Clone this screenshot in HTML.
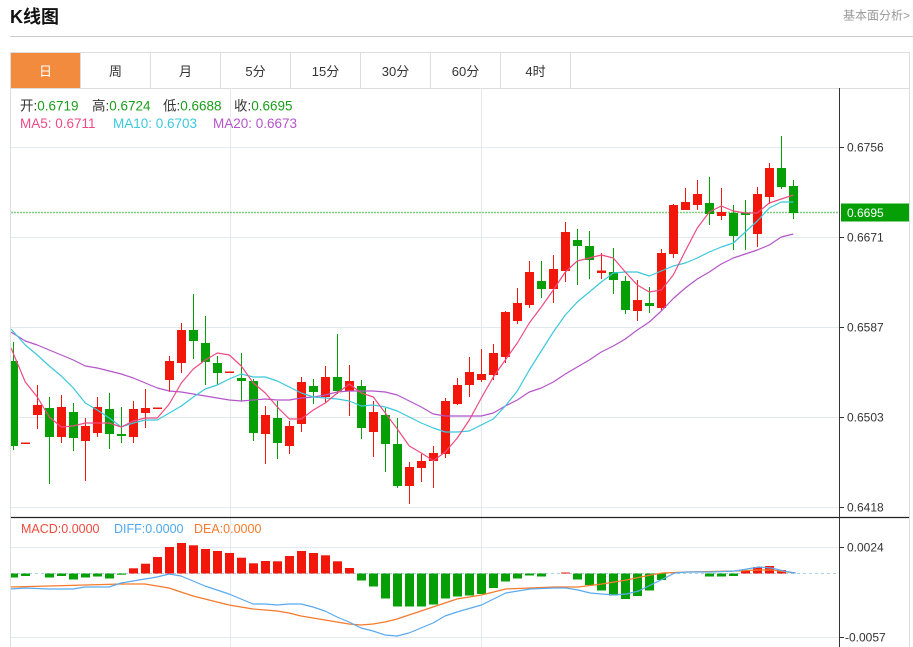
<!DOCTYPE html>
<html><head><meta charset="utf-8"><style>
html,body{margin:0;padding:0;background:#fff;width:913px;height:647px;overflow:hidden}
svg{display:block}
text{font-family:"Liberation Sans","Noto Sans CJK SC",sans-serif}
</style></head><body>
<svg width="913" height="647" viewBox="0 0 913 647" xmlns="http://www.w3.org/2000/svg">
<defs><clipPath id="cp"><rect x="11" y="88" width="828" height="559"/></clipPath></defs>
<rect width="913" height="647" fill="#fff"/>
<text x="10" y="23" font-size="18" font-weight="bold" fill="#111">K线图</text>
<text x="843" y="19.5" font-size="12" fill="#999">基本面分析&gt;</text>
<line x1="10" y1="36.5" x2="913" y2="36.5" stroke="#ccc" stroke-width="1"/>
<!-- tabs -->
<rect x="10.5" y="52.5" width="899" height="36" fill="#fff" stroke="#ddd"/>
<rect x="11" y="53" width="69.5" height="35" fill="#f28b3d"/>
<g stroke="#ddd"><line x1="80.5" y1="52" x2="80.5" y2="88"/><line x1="150.5" y1="52" x2="150.5" y2="88"/><line x1="220.5" y1="52" x2="220.5" y2="88"/><line x1="290.5" y1="52" x2="290.5" y2="88"/><line x1="360.5" y1="52" x2="360.5" y2="88"/><line x1="430.5" y1="52" x2="430.5" y2="88"/><line x1="500.5" y1="52" x2="500.5" y2="88"/><line x1="570.5" y1="52" x2="570.5" y2="88"/></g>
<g font-size="13" fill="#333" text-anchor="middle"><text x="45.5" y="76" fill="#fff">日</text><text x="115.5" y="76">周</text><text x="185.5" y="76">月</text><text x="255.5" y="76">5分</text><text x="325.5" y="76">15分</text><text x="395.5" y="76">30分</text><text x="465.5" y="76">60分</text><text x="535.5" y="76">4时</text></g>
<!-- panel borders -->
<line x1="10.5" y1="88" x2="10.5" y2="647" stroke="#ddd"/>
<line x1="909.5" y1="88" x2="909.5" y2="647" stroke="#ddd"/>
<!-- grid -->
<g stroke="#e3e9f0" stroke-width="1">
<line x1="11" y1="147.5" x2="839" y2="147.5"/><line x1="11" y1="237.5" x2="839" y2="237.5"/><line x1="11" y1="327.5" x2="839" y2="327.5"/><line x1="11" y1="417.5" x2="839" y2="417.5"/><line x1="11" y1="507.5" x2="839" y2="507.5"/>
<line x1="11" y1="547.5" x2="839" y2="547.5"/><line x1="11" y1="637.5" x2="839" y2="637.5"/>
<line x1="230.5" y1="88" x2="230.5" y2="647"/><line x1="481.5" y1="88" x2="481.5" y2="647"/>
</g>
<!-- info text -->
<g font-size="13.5">
<text x="20" y="110.5"><tspan fill="#333">开:</tspan><tspan fill="#1c9e1c">0.6719</tspan></text>
<text x="92" y="110.5"><tspan fill="#333">高:</tspan><tspan fill="#1c9e1c">0.6724</tspan></text>
<text x="163" y="110.5"><tspan fill="#333">低:</tspan><tspan fill="#1c9e1c">0.6688</tspan></text>
<text x="234" y="110.5"><tspan fill="#333">收:</tspan><tspan fill="#1c9e1c">0.6695</tspan></text>
<text x="20" y="128" fill="#ee4b83">MA5: 0.6711</text>
<text x="113" y="128" fill="#3cc8dc">MA10: 0.6703</text>
<text x="213" y="128" fill="#b555c9">MA20: 0.6673</text>
</g>
<g font-size="12.5">
<text x="21" y="533" fill="#f04a3f">MACD:0.0000</text>
<text x="114" y="533" fill="#4fa8ee">DIFF:0.0000</text>
<text x="194" y="533" fill="#f57a2c">DEA:0.0000</text>
</g>
<g clip-path="url(#cp)">
<!-- price line -->
<line x1="11" y1="212.5" x2="839" y2="212.5" stroke="#7fd07f" stroke-width="1.5" stroke-dasharray="2 1"/>
<!-- red candles -->
<g fill="#f2170b">
<rect x="21" y="442.5" width="9" height="1.5"/>
<rect x="33" y="405" width="9" height="10"/><rect x="37" y="385" width="1" height="44"/>
<rect x="57" y="407" width="9" height="30"/><rect x="61" y="395" width="1" height="48"/>
<rect x="81" y="426" width="9" height="15"/><rect x="85" y="418" width="1" height="63"/>
<rect x="93" y="407" width="9" height="26"/><rect x="97" y="397" width="1" height="40"/>
<rect x="129" y="409" width="9" height="28"/><rect x="133" y="401" width="1" height="42"/>
<rect x="141" y="408" width="9" height="5"/><rect x="145" y="389" width="1" height="39"/>
<rect x="153" y="407.5" width="9" height="1.5"/>
<rect x="165" y="361" width="9" height="19"/><rect x="169" y="356" width="1" height="36"/>
<rect x="177" y="330" width="9" height="33"/><rect x="181" y="323" width="1" height="50"/>
<rect x="225" y="371.5" width="9" height="1.5"/>
<rect x="261" y="415" width="9" height="19"/><rect x="265" y="406" width="1" height="58"/>
<rect x="285" y="426" width="9" height="20"/><rect x="289" y="421" width="1" height="33"/>
<rect x="297" y="382" width="9" height="42"/><rect x="301" y="377" width="1" height="55"/>
<rect x="321" y="377" width="9" height="20"/><rect x="325" y="366" width="1" height="37"/>
<rect x="345" y="381" width="9" height="10"/><rect x="349" y="365" width="1" height="51"/>
<rect x="369" y="412" width="9" height="20"/><rect x="373" y="401" width="1" height="56"/>
<rect x="405" y="467" width="9" height="19"/><rect x="409" y="462" width="1" height="42"/>
<rect x="417" y="461" width="9" height="7"/><rect x="421" y="454" width="1" height="28"/>
<rect x="429" y="453" width="9" height="8"/><rect x="433" y="446" width="1" height="42"/>
<rect x="441" y="401" width="9" height="53"/><rect x="445" y="398" width="1" height="60"/>
<rect x="453" y="385" width="9" height="19"/><rect x="457" y="378" width="1" height="27"/>
<rect x="465" y="372" width="9" height="13"/><rect x="469" y="357" width="1" height="40"/>
<rect x="477" y="374" width="9" height="6"/><rect x="481" y="349" width="1" height="33"/>
<rect x="489" y="353" width="9" height="22"/><rect x="493" y="344" width="1" height="36"/>
<rect x="501" y="312" width="9" height="45"/><rect x="505" y="311" width="1" height="52"/>
<rect x="513" y="303" width="9" height="18"/><rect x="517" y="288" width="1" height="36"/>
<rect x="525" y="272" width="9" height="33"/><rect x="529" y="261" width="1" height="47"/>
<rect x="549" y="269" width="9" height="20"/><rect x="553" y="255" width="1" height="48"/>
<rect x="561" y="232" width="9" height="39"/><rect x="565" y="222" width="1" height="60"/>
<rect x="597" y="270.5" width="9" height="2.5"/><rect x="601" y="253" width="1" height="26"/>
<rect x="633" y="300" width="9" height="11"/><rect x="637" y="280" width="1" height="41"/>
<rect x="657" y="253" width="9" height="55"/><rect x="661" y="249" width="1" height="61"/>
<rect x="669" y="205" width="9" height="49"/><rect x="673" y="204" width="1" height="54"/>
<rect x="681" y="202" width="9" height="8"/><rect x="685" y="188" width="1" height="22"/>
<rect x="693" y="194" width="9" height="11"/><rect x="697" y="180" width="1" height="30"/>
<rect x="717" y="212" width="9" height="4"/><rect x="721" y="188" width="1" height="32"/>
<rect x="753" y="194" width="9" height="40"/><rect x="757" y="187" width="1" height="60"/>
<rect x="765" y="168" width="9" height="29"/><rect x="769" y="163" width="1" height="41"/>
</g>
<!-- green candles -->
<g fill="#06a006">
<rect x="9" y="361" width="9" height="85"/><rect x="13" y="342" width="1" height="108"/>
<rect x="45" y="408" width="9" height="29"/><rect x="49" y="397" width="1" height="87"/>
<rect x="69" y="412" width="9" height="26"/><rect x="73" y="403" width="1" height="48"/>
<rect x="105" y="409" width="9" height="25"/><rect x="109" y="393" width="1" height="56"/>
<rect x="117" y="434" width="9" height="2"/><rect x="121" y="407" width="1" height="36"/>
<rect x="189" y="330" width="9" height="11"/><rect x="193" y="294" width="1" height="65"/>
<rect x="201" y="343" width="9" height="19"/><rect x="205" y="316" width="1" height="69"/>
<rect x="213" y="363" width="9" height="10"/><rect x="217" y="356" width="1" height="29"/>
<rect x="237" y="378" width="9" height="3"/><rect x="241" y="353" width="1" height="48"/>
<rect x="249" y="381" width="9" height="52"/><rect x="253" y="379" width="1" height="62"/>
<rect x="273" y="418" width="9" height="25"/><rect x="277" y="401" width="1" height="58"/>
<rect x="309" y="386" width="9" height="6"/><rect x="313" y="379" width="1" height="25"/>
<rect x="333" y="377" width="9" height="14"/><rect x="337" y="334" width="1" height="60"/>
<rect x="357" y="386" width="9" height="42"/><rect x="361" y="380" width="1" height="59"/>
<rect x="381" y="415" width="9" height="29"/><rect x="385" y="408" width="1" height="64"/>
<rect x="393" y="444" width="9" height="42"/><rect x="397" y="418" width="1" height="70"/>
<rect x="537" y="281" width="9" height="8"/><rect x="541" y="261" width="1" height="37"/>
<rect x="573" y="240" width="9" height="6"/><rect x="577" y="229" width="1" height="56"/>
<rect x="585" y="246" width="9" height="14"/><rect x="589" y="231" width="1" height="48"/>
<rect x="609" y="272" width="9" height="8"/><rect x="613" y="248" width="1" height="46"/>
<rect x="621" y="281" width="9" height="29"/><rect x="625" y="276" width="1" height="38"/>
<rect x="645" y="303" width="9" height="3"/><rect x="649" y="287" width="1" height="26"/>
<rect x="705" y="203" width="9" height="11"/><rect x="709" y="177" width="1" height="48"/>
<rect x="729" y="213" width="9" height="23"/><rect x="733" y="205" width="1" height="45"/>
<rect x="741" y="213" width="9" height="2"/><rect x="745" y="200" width="1" height="50"/>
<rect x="777" y="168" width="9" height="19"/><rect x="781" y="136" width="1" height="53"/>
<rect x="789" y="186" width="9" height="27"/><rect x="793" y="180" width="1" height="39"/>
</g>
<!-- MA lines -->
<g fill="none" stroke-width="1.2" stroke-linejoin="round">
<polyline stroke="#b555c9" points="11,332 25.3,341 37.3,345 49.3,350 61.3,355 73.3,360 85.3,366 97.3,368 109.3,371 121.3,374 133.3,378 145.3,383 157.3,388 169.3,391 181.3,392 193.3,394 205.3,396 217.3,398 229.3,400 241.3,401 253.3,400 265.3,399 277.3,400 289.3,400 301.3,398 313.3,397 325.3,395 337.3,392 349.3,391 361.3,391 373.3,391 385.3,392 397.3,395 409.3,401 421.3,407 433.3,414 445.3,416 457.3,416 469.3,416 481.3,416 493.3,413 505.3,406 517.3,400 529.3,392 541.3,388 553.3,382 565.3,374 577.3,367 589.3,360 601.3,352 613.3,346 625.3,339 637.3,330 649.3,322 661.3,311 673.3,298.5 685.3,288 697.3,279 709.3,272 721.3,264 733.3,258 745.3,254 757.3,250 769.3,245 781.3,237 793.3,234"/>
<polyline stroke="#3cc8dc" points="11,329 25.3,345 37.3,355 49.3,366 61.3,376 73.3,388 85.3,403 97.3,410 109.3,418 121.3,427 133.3,423 145.3,420 157.3,420 169.3,413 181.3,406 193.3,397 205.3,389 217.3,385 229.3,379 241.3,374 253.3,377 265.3,377 277.3,381 289.3,387 301.3,393 313.3,397 325.3,398 337.3,399 349.3,401 361.3,406 373.3,405 385.3,407 397.3,411 409.3,417 421.3,423 433.3,428 445.3,432 457.3,432 469.3,431 481.3,425 493.3,419 505.3,406 517.3,391 529.3,370 541.3,351 553.3,332 565.3,315 577.3,302 589.3,292 601.3,282 613.3,273 625.3,272 637.3,272 649.3,276 661.3,271 673.3,266 685.3,263 697.3,258 709.3,252 721.3,247 733.3,243 745.3,232 757.3,221 769.3,208 781.3,202 793.3,202"/>
<polyline stroke="#ee4b83" points="11,348 25.3,382 37.3,397 49.3,417 61.3,427 73.3,426 85.3,423 97.3,423 109.3,423 121.3,427 133.3,421 145.3,418 157.3,418 169.3,404 181.3,383 193.3,369 205.3,360 217.3,353 229.3,355 241.3,366 253.3,383 265.3,393 277.3,407 289.3,419 301.3,419 313.3,410 325.3,403 337.3,393 349.3,384 361.3,393 373.3,397 385.3,413 397.3,429 409.3,446 421.3,453 433.3,460.7 445.3,452 457.3,438 469.3,420 481.3,398 493.3,377 505.3,360 517.3,343 529.3,323 541.3,307 553.3,290 565.3,272 577.3,261 589.3,258 601.3,255 613.3,258 625.3,272 637.3,285 649.3,292 661.3,290 673.3,275 685.3,251 697.3,228 709.3,212 721.3,206 733.3,211 745.3,213 757.3,213 769.3,203 781.3,199 793.3,195"/>
</g>
<!-- MACD zero line -->
<line x1="11" y1="573.5" x2="839" y2="573.5" stroke="#a9d2ea" stroke-width="1" stroke-dasharray="3 3"/>
<!-- MACD bars -->
<g fill="#06a006">
<rect x="9" y="573.5" width="9" height="4"/><rect x="21" y="573.5" width="9" height="2.5"/><rect x="45" y="573.5" width="9" height="4"/><rect x="57" y="573.5" width="9" height="2.5"/><rect x="69" y="573.5" width="9" height="6"/><rect x="81" y="573.5" width="9" height="4"/><rect x="93" y="573.5" width="9" height="3"/><rect x="105" y="573.5" width="9" height="5"/><rect x="117" y="573.5" width="9" height="1.2"/>
<rect x="357" y="573.5" width="9" height="7"/><rect x="369" y="573.5" width="9" height="13"/><rect x="381" y="573.5" width="9" height="25"/><rect x="393" y="573.5" width="9" height="33"/><rect x="405" y="573.5" width="9" height="33"/><rect x="417" y="573.5" width="9" height="33"/><rect x="429" y="573.5" width="9" height="31"/><rect x="441" y="573.5" width="9" height="25"/><rect x="453" y="573.5" width="9" height="23"/><rect x="465" y="573.5" width="9" height="22"/><rect x="477" y="573.5" width="9" height="20.5"/><rect x="489" y="573.5" width="9" height="14.5"/><rect x="501" y="573.5" width="9" height="8"/><rect x="513" y="573.5" width="9" height="5"/><rect x="525" y="573.5" width="9" height="2"/><rect x="537" y="573.5" width="9" height="3"/>
<rect x="573" y="573.5" width="9" height="6"/><rect x="585" y="573.5" width="9" height="11.5"/><rect x="597" y="573.5" width="9" height="17"/><rect x="609" y="573.5" width="9" height="22"/><rect x="621" y="573.5" width="9" height="25.5"/><rect x="633" y="573.5" width="9" height="22.5"/><rect x="645" y="573.5" width="9" height="17"/><rect x="657" y="573.5" width="9" height="6.5"/>
<rect x="705" y="573.5" width="9" height="3"/><rect x="717" y="573.5" width="9" height="3"/><rect x="729" y="573.5" width="9" height="2.5"/>
</g>
<g fill="#f2170b">
<rect x="129" y="568.3" width="9" height="5.2"/><rect x="141" y="563.7" width="9" height="9.8"/><rect x="153" y="557" width="9" height="16.5"/><rect x="165" y="547" width="9" height="26.5"/><rect x="177" y="543" width="9" height="30.5"/><rect x="189" y="545.3" width="9" height="28.2"/><rect x="201" y="549" width="9" height="24.5"/><rect x="213" y="551" width="9" height="22.5"/><rect x="225" y="553" width="9" height="20.5"/><rect x="237" y="557.7" width="9" height="15.8"/><rect x="249" y="563.3" width="9" height="10.2"/><rect x="261" y="561" width="9" height="12.5"/><rect x="273" y="561.3" width="9" height="12.2"/><rect x="285" y="556" width="9" height="17.5"/><rect x="297" y="551" width="9" height="22.5"/><rect x="309" y="553" width="9" height="20.5"/><rect x="321" y="555.3" width="9" height="18.2"/><rect x="333" y="561.3" width="9" height="12.2"/><rect x="345" y="568" width="9" height="5.5"/>
<rect x="561" y="572.5" width="9" height="1"/>
<rect x="741" y="570" width="9" height="3.5"/><rect x="753" y="567" width="9" height="6.5"/><rect x="765" y="566" width="9" height="7.5"/><rect x="777" y="570" width="9" height="3.5"/>
</g>
<!-- DIFF / DEA -->
<g fill="none" stroke-width="1.2" stroke-linejoin="round">
<polyline stroke="#f57a2c" points="11,587 49,586 85,585 121,584 145,584 157,586 169,588 181,592 193,596 205,599 217,602 229,605 241,607 253,609 265,610 277,611 289,613 301,616 313,618 325,620 337,622 349,624 361,625 373,624 385,622 397,619 409,615 421,611 433,607 445,603 457,599 481.5,595 505.7,589 530,588 554,587 578,587 602,584 626.5,580 650.7,575 662.8,573 687,572 735,571 759,570 771.5,570 795.6,573"/>
<polyline stroke="#5aaaf0" points="11,589 25,588 49,589 73,589 85,587 109,587 121,583 133,581 145,579 157,577 169,574 181,576 193,581 205,586 217,590 229,594 241,599 253,604 265,604 277,605 289,604 301,604 313,607 325,611 337,617 349,622 361,628 373,631 385,635 397,636 409,633 421,628 433,623 445,616 457,612 481.5,605 505.7,593 530,589 554,588 566,588 578,590 590,593 602,594 614,595 626.5,594 638.6,591 650.7,585 662.8,579 674.8,573 687,572 711,572 735,571 747,569 759,567 771.5,568 783.6,571 795.6,573"/>
</g>
</g>
<!-- dotted continuation in axis area -->
<line x1="839" y1="573.5" x2="839" y2="573.5" stroke="none"/>
<!-- separator between main and MACD -->
<line x1="11" y1="517.5" x2="909" y2="517.5" stroke="#222" stroke-width="1.3"/>
<!-- axis -->
<line x1="839.5" y1="88" x2="839.5" y2="647" stroke="#333" stroke-width="1"/>
<g stroke="#333"><line x1="839" y1="147.5" x2="844" y2="147.5"/><line x1="839" y1="237.5" x2="844" y2="237.5"/><line x1="839" y1="327.5" x2="844" y2="327.5"/><line x1="839" y1="417.5" x2="844" y2="417.5"/><line x1="839" y1="507.5" x2="844" y2="507.5"/><line x1="839" y1="547.5" x2="844" y2="547.5"/><line x1="839" y1="637.5" x2="844" y2="637.5"/></g>
<g font-size="12" fill="#333">
<text x="847" y="151.5">0.6756</text>
<text x="847" y="241.5">0.6671</text>
<text x="847" y="331.5">0.6587</text>
<text x="847" y="421.5">0.6503</text>
<text x="847" y="511.5">0.6418</text>
<text x="847" y="551.5">0.0024</text>
<text x="845" y="641.5">-0.0057</text>
</g>
<rect x="841" y="203.5" width="68" height="18" fill="#06a006"/>
<text x="847" y="217" font-size="12" fill="#fff">0.6695</text>
</svg>
</body></html>
